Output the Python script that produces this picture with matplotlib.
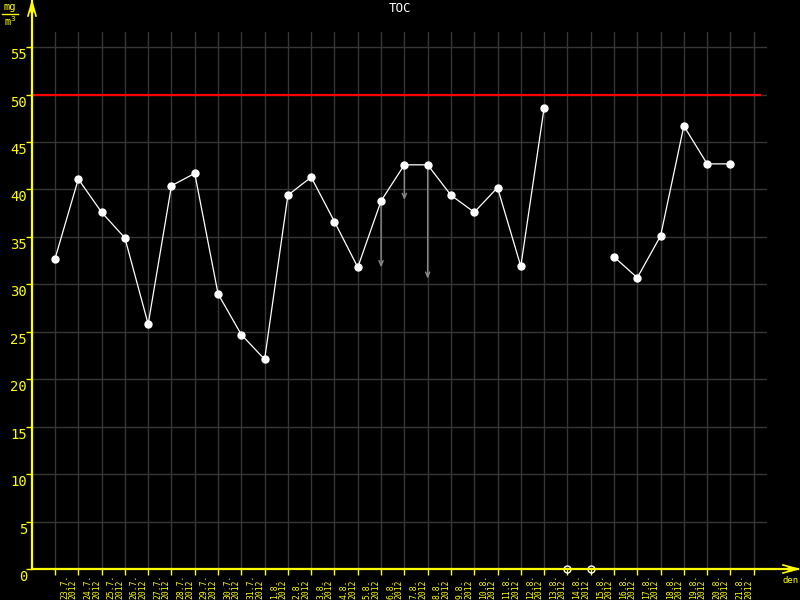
import numpy as np
import matplotlib
matplotlib.use('Agg')
import matplotlib.pyplot as plt
from matplotlib.lines import Line2D

# ---- data ----
dates = ['23.7.', '24.7.', '25.7.', '26.7.', '27.7.', '28.7.', '29.7.', '30.7.', '31.7.',
         '1.8.', '2.8.', '3.8.', '4.8.', '5.8.', '6.8.', '7.8.', '8.8.', '9.8.', '10.8.',
         '11.8.', '12.8.', '13.8.', '14.8.', '15.8.', '16.8.', '17.8.', '18.8.', '19.8.',
         '20.8.', '21.8.']
year = '2012'
values = [32.7, 41.1, 37.6, 34.9, 25.8, 40.4, 41.7, 29.0, 24.7,
          22.1, 39.4, 41.3, 36.6, 31.8, 38.8, 42.6, 42.6, 39.4, 37.6,
          40.2, 31.9, 48.6, np.nan, np.nan, 32.9, 30.7, 35.1, 46.7,
          42.7, 42.7]
low_dates = ['6.8.', '7.8.', '8.8.']
low_values = [31.8, 38.9, 30.6]
limit = 50
y_ticks = [0, 5, 10, 15, 20, 25, 30, 35, 40, 45, 50, 55]
title = 'TOC'
unit_num = 'mg'
unit_den = 'm$^3$'
x_label = 'den'

YEL = '#ffff00'
GRID = '#363636'
MONO = 'DejaVu Sans Mono'

W, H = 800, 600
fig = plt.figure(figsize=(8, 6), dpi=100, facecolor='black')

def fx(px):
    return px / W

def fy(py):
    return 1 - py / H

ax = fig.add_axes([fx(32), fy(569), fx(767) - fx(32), fy(32) - fy(569)])
ax.set_facecolor('black')
for s in ax.spines.values():
    s.set_visible(False)

n = len(dates)
x = np.arange(n)
ax.set_xlim(-0.988, 30.57)
ax.set_ylim(0, 56.6)

ax.set_xticks(np.arange(n + 1))
ax.set_yticks(y_ticks)
ax.grid(True, color=GRID, lw=1)
ax.tick_params(axis='x', length=4, color=YEL, width=1, direction='out', labelbottom=False)
ax.tick_params(axis='y', length=4, color=YEL, width=1, direction='out', labelleft=False)

# limit line
ax.plot([-0.988, 30.27], [limit, limit], color='#ff0000', lw=1.6, zorder=3, clip_on=False)

# range arrows
for d, lo in zip(low_dates, low_values):
    i = dates.index(d)
    ax.annotate('', xy=(i, lo), xytext=(i, values[i]),
                arrowprops=dict(arrowstyle='->,head_length=0.35,head_width=0.15',
                                color='#8a8a8a', lw=1, shrinkA=0, shrinkB=0), zorder=3)

# series
ax.plot(x, values, color='white', lw=0.9, marker='o', markersize=5,
        markerfacecolor='white', markeredgecolor='white', zorder=5)

# missing markers
vals = np.array(values, dtype=float)
miss = x[np.isnan(vals)]
ax.plot(miss, np.zeros(len(miss)), linestyle='none', marker='o', markersize=5,
        markerfacecolor='none', markeredgecolor='white', markeredgewidth=1,
        zorder=6, clip_on=False)

# y labels
for v in y_ticks:
    ax.annotate(str(v), xy=(0, v), xycoords=('axes fraction', 'data'),
                xytext=(-5, -1), textcoords='offset pixels', ha='right', va='top',
                color=YEL, fontsize=10, family=MONO)

# x labels
for i, d in enumerate(dates):
    ax.annotate(f'{d}\n{year}', xy=(i, 0), xycoords='data',
                xytext=(5, -30), textcoords='offset pixels', rotation=90,
                ha='left', va='bottom', multialignment='left', linespacing=0.95,
                color=YEL, fontsize=5.8, family=MONO, annotation_clip=False)

def fline(xs, ys, **kw):
    fig.add_artist(Line2D([fx(v) for v in xs], [fy(v) for v in ys],
                          transform=fig.transFigure, **kw))

fline([32, 32], [569, 1], color=YEL, lw=1.6)
fline([28, 32, 36], [16, 2, 16], color=YEL, lw=1.2)
fline([30, 32, 34], [12, 4, 12], color=YEL, lw=1.0)
fline([32, 798], [569, 569], color=YEL, lw=1.6)
fline([783, 798, 783], [565, 569, 573], color=YEL, lw=1.2)
fline([788, 796, 788], [567, 569, 571], color=YEL, lw=1.0)

# title
fig.text(fx(400), fy(2), title, color='white', ha='center', va='top',
         fontsize=9, family=MONO)

# unit
fig.text(fx(10), fy(12), unit_num, color=YEL, ha='center', va='bottom',
         fontsize=7.5, family=MONO)
fline([2, 18], [13.5, 13.5], color=YEL, lw=1)
fig.text(fx(10), fy(14), unit_den, color=YEL, ha='center', va='top',
         fontsize=7.5, family=MONO)

# x label
fig.text(fx(791), fy(576), x_label, color=YEL, ha='center', va='top',
         fontsize=6.5, family=MONO)

fig.savefig('out.png', dpi=100, facecolor='black')
